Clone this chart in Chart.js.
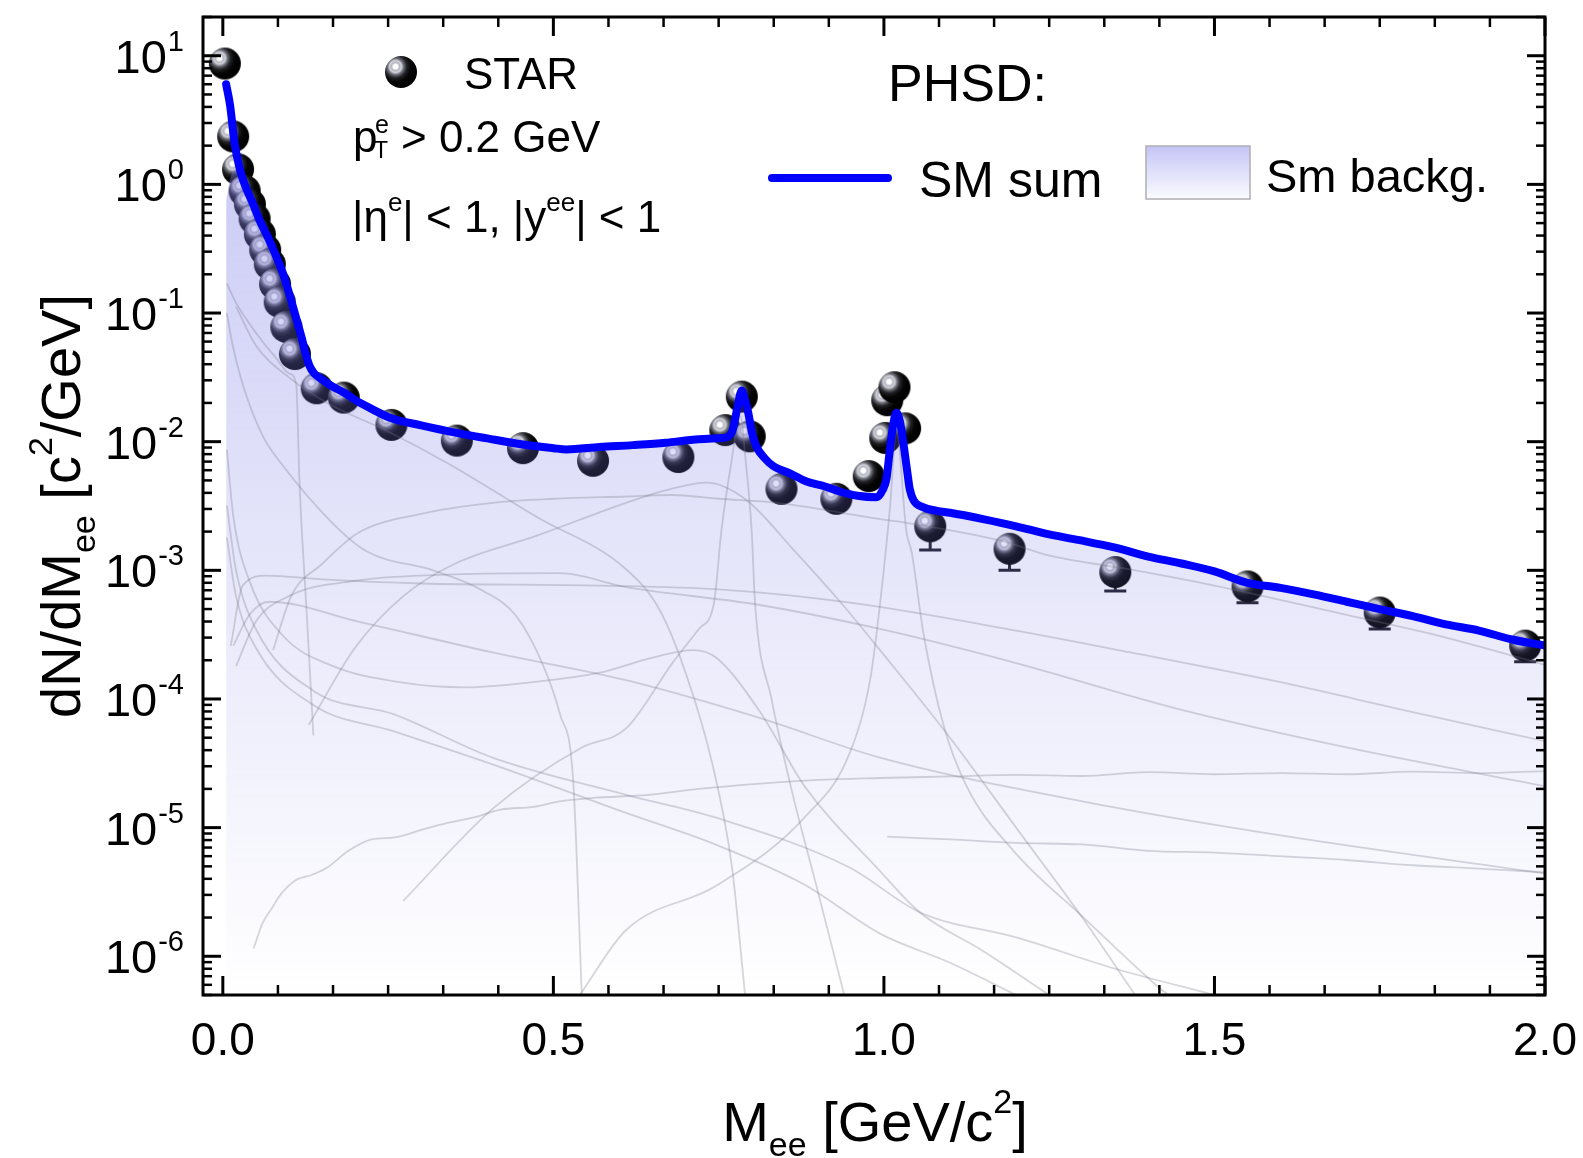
<!DOCTYPE html>
<html>
<head>
<meta charset="utf-8">
<title>Dielectron invariant mass spectrum</title>
<script src="https://cdn.jsdelivr.net/npm/chart.js@4.4.1/dist/chart.umd.min.js"></script>
<style>
  html, body { margin: 0; padding: 0; background: #fff; }
  canvas { display: block; }
</style>
</head>
<body>
<canvas id="massChart" width="1583" height="1158"></canvas>
<script>
// STAR measured yield, dN/dM_ee [c^2/GeV] vs M_ee [GeV/c^2]
const starMass = [0.003, 0.0156, 0.023, 0.033, 0.041, 0.048, 0.056, 0.064, 0.071, 0.079, 0.086, 0.096, 0.109,
  0.142, 0.183, 0.255, 0.354, 0.454, 0.56, 0.689, 0.76, 0.785, 0.797, 0.845, 0.928, 0.977, 1.002, 1.005, 1.016,
  1.032, 1.07, 1.19, 1.35, 1.55, 1.75, 1.97];
const starYield = [8.7, 2.36, 1.31, 0.89, 0.70, 0.54, 0.41, 0.31, 0.24, 0.168, 0.122, 0.078, 0.048,
  0.026, 0.022, 0.0135, 0.0102, 0.0089, 0.0071, 0.0076, 0.0123, 0.0224, 0.011, 0.0043, 0.0036, 0.0054, 0.0107, 0.021, 0.0265,
  0.0127, 0.0022, 0.00147, 0.00097, 0.00075, 0.00047, 0.00026];

// lower error bars on the high-mass points (upper ends sit inside the markers)
const errMass = [1.07, 1.19, 1.35, 1.55, 1.75, 1.97];
const errLow = [0.00144, 0.001, 0.00069, 0.00056, 0.00035, 0.000195];

// PHSD: SM sum
const sumMass = [0.005, 0.011, 0.018, 0.026, 0.033, 0.045, 0.056, 0.068, 0.079, 0.09, 0.099, 0.11, 0.119, 0.125,
  0.131, 0.138, 0.148, 0.165, 0.185, 0.2, 0.225, 0.255, 0.3, 0.354, 0.4, 0.454, 0.5, 0.52, 0.57, 0.62, 0.67, 0.707,
  0.74, 0.757, 0.77, 0.778, 0.785, 0.79, 0.795, 0.8, 0.807, 0.82, 0.832, 0.86, 0.883, 0.91, 0.933, 0.96, 0.989,
  0.998, 1.004, 1.008, 1.011, 1.015, 1.019, 1.024, 1.028, 1.032, 1.036, 1.039, 1.045, 1.059, 1.08, 1.1, 1.15, 1.2,
  1.25, 1.3, 1.35, 1.4, 1.45, 1.5, 1.55, 1.6, 1.65, 1.7, 1.75, 1.8, 1.85, 1.9, 1.95, 2.0];
const sumYield = [6.0, 4.1, 2.05, 1.3, 1.0, 0.72, 0.52, 0.39, 0.29, 0.21, 0.15, 0.095, 0.065, 0.049,
  0.039, 0.034, 0.031, 0.027, 0.0238, 0.0211, 0.018, 0.0152, 0.0134, 0.0117, 0.0106, 0.0095, 0.0089, 0.0087, 0.0091, 0.0094, 0.0098, 0.0103,
  0.0106, 0.0107, 0.0118, 0.018, 0.025, 0.021, 0.0166, 0.012, 0.0092, 0.0074, 0.0065, 0.0056, 0.0049, 0.0045, 0.0041, 0.0038, 0.0037,
  0.0042, 0.0052, 0.0078, 0.0105, 0.0145, 0.0168, 0.0145, 0.011, 0.0078, 0.0055, 0.0043, 0.0035, 0.0031, 0.0029, 0.0028, 0.0025, 0.0022,
  0.0019, 0.0017, 0.0015, 0.00128, 0.00113, 0.00098, 0.0008, 0.00073, 0.00065, 0.00057, 0.0005, 0.00044, 0.00038, 0.00034, 0.00029, 0.00026];

// background band: its own low-mass edge, then it follows the sum
const backgMass = [0.005, 0.015];
const backgYield = [0.75, 1.25];
const backgJoin = 0.026;

// individual PHSD channels, [mass, yield]
const piDalitz = [[0.006, 0.17], [0.02, 0.12], [0.04, 0.083], [0.06, 0.06], [0.08, 0.045], [0.1, 0.034], [0.111, 0.028],
  [0.116, 0.0048], [0.127, 4.5e-4], [0.137, 5.2e-5]];
const etaDalitz = [[0.006, 0.1], [0.015, 0.056], [0.031, 0.027], [0.06, 0.0112], [0.091, 0.0065], [0.167, 0.0023],
  [0.218, 0.0014], [0.318, 0.001], [0.394, 6.9e-4], [0.444, 4.4e-4], [0.485, 1.8e-4], [0.51, 7.6e-5], [0.53, 2.3e-5], [0.543, 5e-7]];
const omegaDalitz = [[0.02, 0.112], [0.05, 0.056], [0.1, 0.0316], [0.158, 0.02], [0.25, 0.012], [0.34, 0.0068],
  [0.475, 0.0026], [0.61, 0.00102], [0.66, 5e-4], [0.7, 1.6e-4], [0.74, 3.2e-5], [0.77, 5e-6], [0.79, 5e-7]];
const rhoVacuum = [[0.006, 0.0087], [0.016, 0.0026], [0.041, 8.1e-4], [0.091, 3.1e-4], [0.167, 1.8e-4], [0.267, 1.35e-4],
  [0.368, 1.23e-4], [0.469, 1.35e-4], [0.57, 1.6e-4], [0.65, 2.1e-4], [0.712, 2.4e-4], [0.746, 2.1e-4], [0.813, 7.9e-5],
  [0.88, 2.1e-5], [0.994, 4.6e-6], [1.054, 2.2e-6], [1.15, 1.1e-6], [1.25, 5e-7]];
const flatHump = [[0.012, 2.6e-4], [0.03, 7.6e-4], [0.066, 9.1e-4], [0.15, 8.5e-4], [0.3, 7.9e-4], [0.57, 7.6e-4],
  [0.75, 7.1e-4], [0.949, 5.6e-4], [1.2, 3.4e-4], [1.373, 2.3e-4], [1.6, 1.35e-4], [1.8, 7.9e-5], [2.0, 4.7e-5]];
const hadronSum = [[0.076, 2.4e-4], [0.104, 6.4e-4], [0.15, 1.12e-3], [0.205, 1.96e-3], [0.3, 2.75e-3], [0.408, 3.35e-3],
  [0.5, 3.6e-3], [0.61, 3.75e-3], [0.678, 3.85e-3], [0.75, 3.6e-3], [0.839, 3.35e-3], [0.994, 2.5e-3], [1.032, 2.35e-3],
  [1.177, 1.7e-3], [1.251, 1.3e-3], [1.37, 1.02e-3], [1.5, 7.6e-4], [1.7, 4.5e-4], [1.85, 3.0e-4], [2.0, 1.84e-4]];
const rhoMedium = [[0.13, 6.3e-5], [0.2, 2.5e-4], [0.273, 6.3e-4], [0.35, 1.12e-3], [0.475, 1.86e-3], [0.61, 3.35e-3],
  [0.678, 4.3e-3], [0.732, 4.8e-3], [0.791, 3.55e-3], [0.863, 1.45e-3], [0.935, 5.6e-4], [1.0, 2.2e-4], [1.1, 5e-5],
  [1.2, 1e-5], [1.3, 2e-6], [1.38, 5e-7]];
const omegaPeak = [[0.273, 2.7e-6], [0.408, 1.4e-5], [0.543, 4.2e-5], [0.61, 5.9e-5], [0.68, 1.9e-4], [0.72, 3.5e-4],
  [0.743, 5.6e-4], [0.754, 2e-3], [0.768, 6.3e-3], [0.783, 0.0158], [0.79, 7.9e-3], [0.8, 2e-3], [0.805, 5.6e-4],
  [0.83, 1e-4], [0.86, 2e-5], [0.9, 3.2e-6], [0.94, 5e-7]];
const phiPeak = [[0.54, 5e-7], [0.61, 1.6e-6], [0.745, 3.5e-6], [0.88, 1.2e-5], [0.95, 4e-5], [0.98, 1.5e-4],
  [0.995, 6e-4], [1.009, 3e-3], [1.019, 0.012], [1.034, 2e-3], [1.042, 1.38e-3], [1.06, 3.2e-4], [1.09, 6.3e-5],
  [1.125, 2.1e-5], [1.196, 6.6e-6], [1.302, 2e-6], [1.408, 6.2e-7], [1.43, 5e-7]];
const qgpYield = [[0.0465, 1.15e-6], [0.06, 1.8e-6], [0.075, 2.4e-6], [0.087, 3e-6], [0.11, 3.9e-6], [0.135, 4.3e-6],
  [0.158, 4.9e-6], [0.19, 6.6e-6], [0.225, 8.1e-6], [0.26, 8.4e-6], [0.3, 9.6e-6], [0.34, 1.09e-5], [0.38, 1.2e-5],
  [0.42, 1.38e-5], [0.47, 1.45e-5], [0.509, 1.6e-5], [0.56, 1.7e-5], [0.644, 1.8e-5], [0.72, 2e-5], [0.813, 2.2e-5],
  [0.9, 2.35e-5], [0.994, 2.43e-5], [1.1, 2.5e-5], [1.2, 2.57e-5], [1.3, 2.52e-5], [1.4, 2.7e-5], [1.5, 2.6e-5],
  [1.6, 2.65e-5], [1.7, 2.6e-5], [1.8, 2.72e-5], [1.9, 2.65e-5], [2.0, 2.75e-5]];
const etaPrime = [[0.02, 1.8e-4], [0.05, 4e-4], [0.1, 6.3e-4], [0.2, 8.3e-4], [0.35, 9.3e-4], [0.51, 9.5e-4],
  [0.61, 7.4e-4], [0.81, 5.4e-4], [0.994, 3.5e-4], [1.2, 1.9e-4], [1.44, 8.5e-5], [1.7, 4.2e-5], [2.0, 2.1e-5]];
const bremsstrahlung = [[0.016, 2.6e-4], [0.04, 4.5e-4], [0.07, 5.7e-4], [0.205, 4e-4], [0.408, 2.3e-4], [0.61, 1.4e-4],
  [0.813, 7.1e-5], [0.994, 3.5e-5], [1.3, 1.6e-5], [1.6, 8.7e-6], [2.0, 4.4e-6]];
const pnBrems = [[0.006, 3.2e-3], [0.02, 1e-3], [0.05, 3.5e-4], [0.138, 1.15e-4], [0.259, 7.6e-5], [0.408, 3.5e-5],
  [0.61, 1.8e-5], [0.745, 1.2e-5], [0.948, 4.9e-6], [1.054, 2.2e-6], [1.2, 1.4e-6], [1.35, 8e-7], [1.5, 5e-7]];
const ppBrems = [[0.006, 1.8e-3], [0.02, 6.3e-4], [0.05, 2.5e-4], [0.138, 8.9e-5], [0.259, 5.6e-5], [0.408, 3.1e-5],
  [0.61, 1.3e-5], [0.745, 7.4e-6], [0.88, 3.6e-6], [0.994, 1.5e-6], [1.1, 8.9e-7], [1.2, 5e-7]];
const charmPairs = [[1.005, 8.5e-6], [1.1, 8.1e-6], [1.2, 7.6e-6], [1.3, 7.4e-6], [1.4, 6.6e-6], [1.5, 6.4e-6],
  [1.6, 6e-6], [1.7, 5.6e-6], [1.8, 5.1e-6], [1.9, 4.8e-6], [2.0, 4.5e-6]];

const channels = [piDalitz, etaDalitz, omegaDalitz, rhoVacuum, flatHump, hadronSum, rhoMedium, omegaPeak, phiPeak,
  qgpYield, etaPrime, bremsstrahlung, pnBrems, ppBrems, charmPairs];

// axis labelling
const xTickValues = [0, 0.5, 1.0, 1.5, 2.0];
const xTickLabels = ['0.0', '0.5', '1.0', '1.5', '2.0'];
const yTickValues = [1e1, 1e0, 1e-1, 1e-2, 1e-3, 1e-4, 1e-5, 1e-6];
const yTickExponents = ['1', '0', '-1', '-2', '-3', '-4', '-5', '-6'];

const FONT = '"Liberation Sans", Arial, Helvetica, sans-serif';

const toPoints = (xs, ys) => xs.map((x, i) => ({ x, y: ys[i] }));
const pairPoints = pairs => pairs.map(([x, y]) => ({ x, y }));

// shaded sphere used as the STAR marker
function makeBall(r) {
  const size = Math.ceil(r * 2 + 2);
  const c = document.createElement('canvas');
  c.width = c.height = size;
  const g = c.getContext('2d');
  const cx = size / 2, cy = size / 2;
  const hx = cx - r * 0.34, hy = cy - r * 0.34;
  const grad = g.createRadialGradient(hx, hy, 0, hx, hy, r * 1.35);
  grad.addColorStop(0, '#ffffff');
  grad.addColorStop(0.1, '#ffffff');
  grad.addColorStop(0.19, '#b4b4c0');
  grad.addColorStop(0.27, '#d4d4dc');
  grad.addColorStop(0.38, '#6c6c76');
  grad.addColorStop(0.52, '#222226');
  grad.addColorStop(0.7, '#060606');
  grad.addColorStop(1, '#000000');
  g.beginPath();
  g.arc(cx, cy, r, 0, Math.PI * 2);
  g.fillStyle = grad;
  g.fill();
  return c;
}
const ballImage = makeBall(16);

function bandFill(ctx) {
  const area = ctx.chart.chartArea;
  if (!area) return 'rgba(130,130,230,0.3)';
  const g = ctx.chart.ctx.createLinearGradient(0, area.top, 0, area.bottom);
  g.addColorStop(0, 'rgba(120,120,230,0.45)');
  g.addColorStop(0.55, 'rgba(120,120,230,0.19)');
  g.addColorStop(1, 'rgba(120,120,230,0.0)');
  return g;
}

// text runs with sub/superscripts: [text, size, dy]
function runWidth(ctx, parts) {
  let w = 0;
  for (const [text, size] of parts) {
    ctx.font = `${size}px ${FONT}`;
    w += ctx.measureText(text).width;
  }
  return w;
}
function drawRun(ctx, parts, x, y) {
  let cx = x;
  for (const [text, size, dy] of parts) {
    ctx.font = `${size}px ${FONT}`;
    ctx.fillText(text, cx, y + (dy || 0));
    cx += ctx.measureText(text).width;
  }
  return cx;
}

const errorBars = {
  id: 'errorBars',
  beforeDatasetsDraw(chart) {
    const { ctx, scales: { x, y } } = chart;
    ctx.save();
    ctx.strokeStyle = '#1c1c24';
    ctx.lineWidth = 3;
    errMass.forEach((m, i) => {
      const px = x.getPixelForValue(m);
      const lo = y.getPixelForValue(errLow[i]);
      const mid = y.getPixelForValue(starYield[starMass.indexOf(m)]);
      ctx.beginPath();
      ctx.moveTo(px, lo); ctx.lineTo(px, mid);
      ctx.moveTo(px - 11, lo); ctx.lineTo(px + 11, lo);
      ctx.stroke();
    });
    ctx.restore();
  }
};

const frameAndLabels = {
  id: 'frameAndLabels',
  afterDraw(chart) {
    const { ctx, chartArea: a, scales: { x, y } } = chart;
    ctx.save();
    ctx.strokeStyle = '#000';
    ctx.fillStyle = '#000';

    const tick = (x1, y1, x2, y2) => { ctx.beginPath(); ctx.moveTo(x1, y1); ctx.lineTo(x2, y2); ctx.stroke(); };

    // x ticks: 5 minors between majors, mirrored on the top edge
    for (let i = 0; i <= 24; i++) {
      const px = x.getPixelForValue(i * 0.5 / 6);
      const major = i % 6 === 0;
      const len = major ? 19 : 10;
      ctx.lineWidth = major ? 3 : 2.5;
      tick(px, a.bottom, px, a.bottom - len);
      tick(px, a.top, px, a.top + len);
    }
    // y ticks: decades and 2..9 minors, mirrored on the right edge
    for (let n = -7; n <= 1; n++) {
      for (let k = 1; k <= 9; k++) {
        const v = k * Math.pow(10, n);
        if (v < y.min * 0.999 || v > y.max * 1.001) continue;
        const py = y.getPixelForValue(v);
        const major = k === 1;
        const len = major ? 18 : 9;
        ctx.lineWidth = major ? 3 : 2.5;
        tick(a.left, py, a.left + len, py);
        tick(a.right, py, a.right - len, py);
      }
    }
    ctx.lineWidth = 3;
    ctx.strokeRect(a.left, a.top, a.right - a.left, a.bottom - a.top);

    // tick labels
    ctx.textBaseline = 'alphabetic';
    ctx.textAlign = 'center';
    ctx.font = `46px ${FONT}`;
    xTickValues.forEach((v, i) => ctx.fillText(xTickLabels[i], x.getPixelForValue(v), a.bottom + 60));

    ctx.textAlign = 'left';
    yTickValues.forEach((v, i) => {
      const py = y.getPixelForValue(v);
      ctx.font = `47px ${FONT}`;
      const tw = ctx.measureText('10').width;
      ctx.font = `29px ${FONT}`;
      const sw = ctx.measureText(yTickExponents[i]).width;
      const x0 = a.left - 19 - sw - tw - 1;
      ctx.fillText(yTickExponents[i], x0 + tw + 1, py - 5);
      ctx.font = `47px ${FONT}`;
      ctx.fillText('10', x0, py + 17);
    });

    // axis titles
    const xTitle = [['M', 56, 0], ['ee', 34, 15], [' [GeV/c', 56, 0], ['2', 34, -28], [']', 56, 0]];
    const xw = runWidth(ctx, xTitle);
    drawRun(ctx, xTitle, (a.left + a.right) / 2 + 1 - xw / 2, 1141);

    const yTitle = [['dN/dM', 56, 0], ['ee', 34, 15], [' [c', 56, 0], ['2', 34, -28], ['/GeV]', 56, 0]];
    const yw = runWidth(ctx, yTitle);
    ctx.save();
    ctx.translate(80, (a.top + a.bottom) / 2);
    ctx.rotate(-Math.PI / 2);
    drawRun(ctx, yTitle, -yw / 2, 0);
    ctx.restore();

    // left legend block
    ctx.drawImage(ballImage, 401 - ballImage.width / 2, 72 - ballImage.height / 2);
    ctx.font = `44px ${FONT}`;
    ctx.fillText('STAR', 464, 89);

    const pBase = 152;
    ctx.fillText('p', 353, pBase);
    ctx.font = `25px ${FONT}`;
    ctx.fillText('e', 375, pBase - 19);
    ctx.font = `23px ${FONT}`;
    ctx.fillText('T', 374, pBase + 6);
    ctx.font = `44px ${FONT}`;
    ctx.fillText('> 0.2 GeV', 401, pBase);

    drawRun(ctx, [['|\u03b7', 44, 0], ['e', 26, -21], ['| < 1, |y', 44, 0], ['ee', 26, -21], ['| < 1', 44, 0]], 352, 232);

    // right legend block
    ctx.font = `52px ${FONT}`;
    ctx.fillText('PHSD:', 888, 101);

    ctx.strokeStyle = '#0000ff';
    ctx.lineWidth = 8;
    ctx.lineCap = 'round';
    tick(772, 178, 888, 178);
    ctx.lineCap = 'butt';
    ctx.font = `50px ${FONT}`;
    ctx.fillText('SM sum', 919, 197);

    const bx = 1146, by = 146, bw = 104, bh = 53;
    const bg = ctx.createLinearGradient(0, by, 0, by + bh);
    bg.addColorStop(0, 'rgb(196,196,246)');
    bg.addColorStop(1, 'rgb(252,252,255)');
    ctx.fillStyle = bg;
    ctx.fillRect(bx, by, bw, bh);
    ctx.strokeStyle = 'rgb(175,175,180)';
    ctx.lineWidth = 1.5;
    ctx.strokeRect(bx, by, bw, bh);
    ctx.fillStyle = '#000';
    ctx.font = `47px ${FONT}`;
    ctx.fillText('Sm backg.', 1266, 192);

    ctx.restore();
  }
};

const backgPoints = toPoints(backgMass, backgYield)
  .concat(toPoints(sumMass, sumYield).filter(p => p.x >= backgJoin));

const channelSets = channels.map(c => ({
  data: pairPoints(c),
  borderColor: 'rgba(120,120,135,0.3)',
  borderWidth: 1.8,
  pointRadius: 0,
  cubicInterpolationMode: 'monotone',
  order: 2
}));

new Chart(document.getElementById('massChart'), {
  type: 'line',
  data: {
    datasets: [
      {
        label: 'SM sum',
        data: toPoints(sumMass, sumYield),
        borderColor: '#0000ff',
        borderWidth: 8,
        borderJoinStyle: 'round',
        borderCapStyle: 'round',
        pointRadius: 0,
        cubicInterpolationMode: 'monotone',
        order: 0
      },
      ...channelSets,
      {
        label: 'Sm backg.',
        data: backgPoints,
        fill: 'start',
        backgroundColor: bandFill,
        borderColor: 'rgba(0,0,0,0)',
        borderWidth: 0,
        pointRadius: 0,
        cubicInterpolationMode: 'monotone',
        order: 5
      },
      {
        label: 'STAR',
        data: toPoints(starMass, starYield),
        showLine: false,
        pointStyle: ballImage,
        pointRadius: 16,
        order: 10
      }
    ]
  },
  options: {
    responsive: false,
    animation: false,
    devicePixelRatio: 1,
    layout: { padding: { left: 0, right: 38, top: 12, bottom: 0 } },
    plugins: {
      legend: { display: false },
      tooltip: { enabled: false }
    },
    scales: {
      x: {
        type: 'linear',
        min: -0.03,
        max: 2.0,
        grid: { display: false },
        border: { display: false },
        ticks: { display: false },
        afterFit: s => { s.height = 163; }
      },
      y: {
        type: 'logarithmic',
        min: 5e-7,
        max: 20,
        grid: { display: false },
        border: { display: false },
        ticks: { display: false },
        afterFit: s => { s.width = 203; }
      }
    }
  },
  plugins: [errorBars, frameAndLabels]
});
</script>
</body>
</html>
